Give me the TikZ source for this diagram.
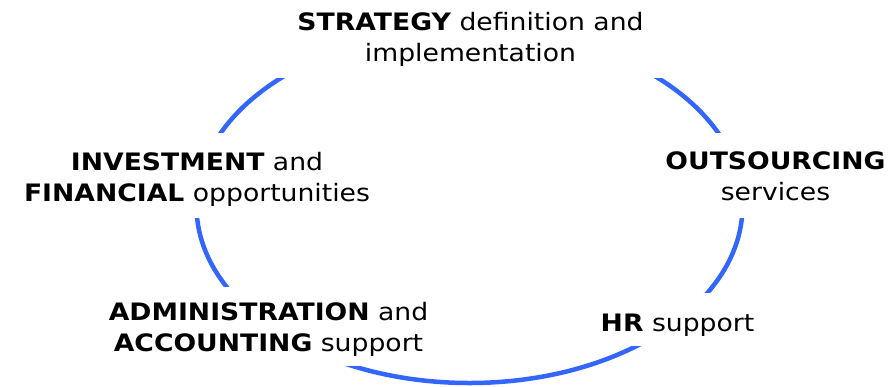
\documentclass[tikz,border=0pt]{standalone}
\usepackage{fontspec}
\setmainfont{DejaVu Sans}[FakeStretch=1.11]
\definecolor{ringblue}{RGB}{51,102,255}
\tikzset{
  lbl/.style={font=\fontsize{24}{31}\selectfont, align=center, anchor=base, inner sep=0pt, text=black},
  ring/.style={draw=ringblue, line width=4.5pt},
  cover/.style={fill=white}
}
\begin{document}
\begin{tikzpicture}[x=1pt,y=-1pt]
\useasboundingbox (0,0) rectangle (890,386);
\coordinate (c) at (469.5,206);
\draw[ring] (c) ellipse [x radius=273, y radius=177];
\fill[cover] (270,-5) rectangle (670,78);
\fill[cover] (20,133) rectangle (385,218);
\fill[cover] (660,133) rectangle (890,218);
\fill[cover] (100,287) rectangle (440,366);
\fill[cover] (595,293) rectangle (760,346);
\node[lbl] (strat) at (470.5,61.7) {\textbf{STRATEGY} definition and\\implementation};
\node[lbl] (invest) at (197,201.7) {\textbf{INVESTMENT} and\\\textbf{FINANCIAL} opportunities};
\node[lbl] (outs) at (775.5,200) {\textbf{OUTSOURCING}\\services};
\node[lbl] (admin) at (268.5,351.7) {\textbf{ADMINISTRATION} and\\\textbf{ACCOUNTING} support};
\node[lbl] (hr) at (677.5,331) {\textbf{HR} support};
\end{tikzpicture}
\end{document}
